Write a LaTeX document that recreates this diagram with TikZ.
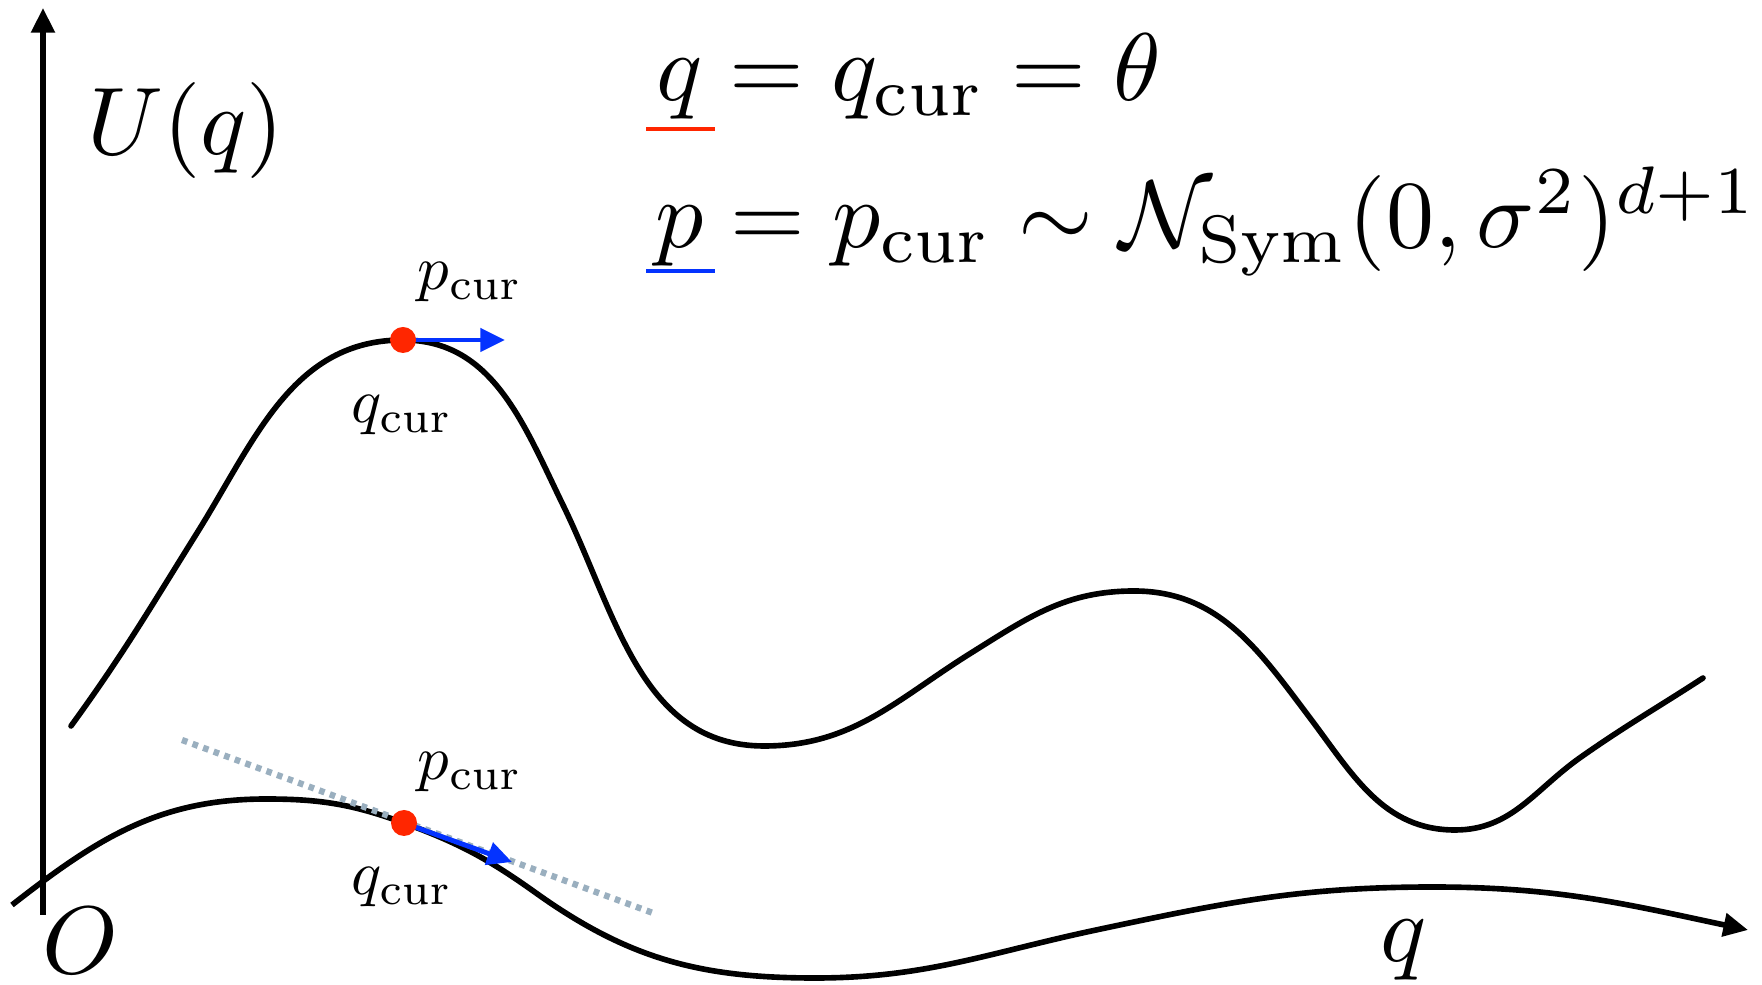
\documentclass[tikz,border=0pt]{standalone}
\usepackage{amsmath}
\usepackage{tikz}
\usetikzlibrary{arrows.meta}
\definecolor{dotred}{HTML}{FF2600}
\definecolor{pblue}{HTML}{0433FF}
\definecolor{tangray}{HTML}{9AAFBF}
\tikzset{
  axis/.style={-{Triangle[length=7pt,width=6.5pt]},line width=1.6pt},
  curve/.style={line width=1.6pt,line cap=round},
  mom/.style={-{Triangle[length=7pt,width=6.5pt]},line width=1.4pt,pblue},
  biglbl/.style={scale=2.73,transform shape,inner sep=0pt},
  smlbl/.style={scale=1.79,transform shape,inner sep=0pt}
}

\begin{document}
\begin{tikzpicture}
\useasboundingbox (0,0) rectangle (17.62,9.85);
\def\R{0.13}
% axes
\coordinate (ybot) at (0.43,0.70); \coordinate (ytop) at (0.43,9.77);
\draw[axis] (ybot)--(ytop);
\draw[axis] (0.12,0.80) to[out=38,in=180] (2.66,1.86) to[out=0,in=160] (4.04,1.62)
  to[out=-20,in=144.5] (5.36,0.92) to[out=-35.5,in=180] (8.15,0.07)
  to[out=0,in=192] (10.96,0.55) to[out=12,in=180] (14.33,0.98)
  to[out=0,in=168] (17.48,0.55);
% potential U(q)
\draw[curve] (0.71,2.59) to[out=54,in=238] (1.97,4.52) to[out=58,in=180] (4.03,6.45)
  to[out=0,in=116] (5.63,4.80) to[out=-64,in=180] (7.64,2.39)
  to[out=0,in=212] (9.71,3.32) to[out=32,in=180] (11.34,3.94)
  to[out=0,in=127] (13.10,2.67) to[out=-53,in=180] (14.55,1.55)
  to[out=0,in=215] (15.81,2.28) to[out=35,in=213] (17.03,3.07);
% tangent at the lower point
\coordinate (tanL) at (1.82,2.45); \coordinate (tanR) at (6.53,0.72);
\draw[tangray,line width=1.8pt,dash pattern=on 1.6pt off 1.6pt] (tanL)--(tanR);
% current points and momenta
\coordinate (qA) at (4.03,6.45); \coordinate (pA) at (5.05,6.45);
\coordinate (qB) at (4.04,1.62); \coordinate (pB) at (5.12,1.23);
\draw[mom] (qA)--(pA);
\draw[mom] (qB)--(pB);
\fill[dotred] (qA) circle (\R);
\fill[dotred] (qB) circle (\R);
\node[smlbl,anchor=base] (pcurA) at (4.70,6.95) {$p_{\mathrm{cur}}$};
\node[smlbl,anchor=base] (qcurA) at (4.02,5.62) {$q_{\mathrm{cur}}$};
\node[smlbl,anchor=base] (pcurB) at (4.70,2.05) {$p_{\mathrm{cur}}$};
\node[smlbl,anchor=base] (qcurB) at (4.02,0.90) {$q_{\mathrm{cur}}$};
% axis labels
\node[biglbl,anchor=base] (uq) at (1.855,8.30) {$U(q)$};
\node[biglbl,anchor=base] (orig) at (0.80,0.12) {$O$};
\node[biglbl,anchor=base] (qax) at (14.04,0.24) {$q$};
% equations
\node[biglbl,anchor=base west] (eqq) at (6.55,8.84) {$q = q_{\mathrm{cur}} = \theta$};
\node[biglbl,anchor=base west] (eqp) at (6.54,7.37)
  {$p = p_{\mathrm{cur}} \sim \mathcal{N}_{\mathrm{Sym}}(0,\sigma^2)^{d+1}$};
\draw[dotred,line width=1.4pt] (6.46,8.56)--(7.15,8.56);
\draw[pblue,line width=1.4pt] (6.46,7.14)--(7.15,7.14);
\end{tikzpicture}
\end{document}
